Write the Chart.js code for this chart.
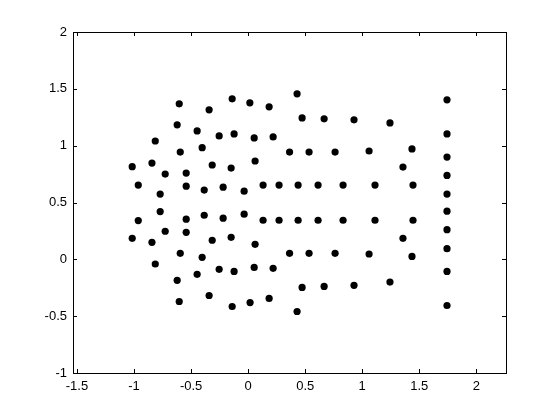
<!DOCTYPE html>
<html>
<head>
<meta charset="utf-8">
<script src="https://cdn.jsdelivr.net/npm/chart.js@4/dist/chart.umd.min.js"></script>
<style>
  html, body { margin:0; padding:0; background:#fff; }
  #wrap { width:560px; height:420px; }
</style>
</head>
<body>
<div id="wrap"><canvas id="chart" width="560" height="420"></canvas></div>
<script>
// ================= DATA =================

// point coordinates
const xVals = [
  -0.604,-0.342,-0.622,-0.447,-0.254,-0.814,-0.595,-0.403,-1.016,-0.843,-0.727,-0.543,-0.315,-0.963,-0.543,-0.385,-0.771,
  -0.771,-0.963,-0.543,-0.385,-1.016,-0.843,-0.727,-0.543,-0.315,-0.595,-0.403,-0.814,-0.447,-0.254,-0.622,-0.342,-0.604,
  -0.140,0.015,0.184,0.429,0.473,0.666,-0.123,0.053,0.219,0.363,0.534,0.762,-0.149,0.061,-0.219,-0.035,0.131,0.271,0.438,0.613,0.832,
  -0.219,-0.035,0.131,0.271,0.438,0.613,0.832,-0.149,0.061,0.363,0.534,0.762,-0.123,0.053,0.219,0.473,0.666,-0.140,0.017,0.184,0.429,
  1.743,0.928,1.243,1.743,1.060,1.436,1.743,1.357,1.743,1.112,1.445,1.743,
  1.112,1.445,1.743,1.743,1.357,1.743,1.060,1.436,1.743,0.928,1.243,1.743
];
const yVals = [
  1.368,1.315,1.183,1.130,1.086,1.041,0.944,0.982,0.815,0.847,0.750,0.759,0.830,0.653,0.644,0.609,0.574,
  0.420,0.341,0.353,0.388,0.185,0.150,0.247,0.238,0.168,0.053,0.018,-0.041,-0.132,-0.088,-0.185,-0.318,-0.371,
  1.412,1.377,1.342,1.456,1.244,1.236,1.103,1.068,1.077,0.944,0.944,0.944,0.803,0.865,0.635,0.600,0.653,0.653,0.653,0.653,0.653,
  0.362,0.397,0.344,0.344,0.344,0.344,0.344,0.194,0.132,0.053,0.053,0.053,-0.106,-0.071,-0.079,-0.247,-0.238,-0.415,-0.380,-0.344,-0.459,
  1.403,1.227,1.200,1.103,0.953,0.971,0.900,0.812,0.738,0.653,0.653,0.574,
  0.344,0.344,0.424,0.261,0.185,0.094,0.047,0.026,-0.106,-0.229,-0.200,-0.406
];

const xTicks = [-1.5,-1,-0.5,0,0.5,1,1.5,2];
const yTicks = [-1,-0.5,0,0.5,1,1.5,2];

const xMin = -1.535, xMax = 2.26;
const yMin = -1, yMax = 2;

// ================= CHART =================

const points = xVals.map((x,i)=>({x:x, y:yVals[i]}));

// box round the plot with inward ticks on all four sides
const boxPlugin = {
  id:"box",
  afterDraw(c){
    const ctx = c.ctx, a = c.chartArea;
    const xs = c.scales.x, ys = c.scales.y;
    const tl = 4;
    ctx.save();
    ctx.strokeStyle = "#000";
    ctx.lineWidth = 1;
    ctx.beginPath();
    xTicks.forEach(v=>{
      const px = Math.round(xs.getPixelForValue(v)) + 0.5;
      ctx.moveTo(px, a.bottom); ctx.lineTo(px, a.bottom - tl);
      ctx.moveTo(px, a.top); ctx.lineTo(px, a.top + tl);
    });
    yTicks.forEach(v=>{
      const py = Math.round(ys.getPixelForValue(v)) + 0.5;
      ctx.moveTo(a.left, py); ctx.lineTo(a.left + tl, py);
      ctx.moveTo(a.right, py); ctx.lineTo(a.right - tl, py);
    });
    ctx.stroke();
    ctx.strokeRect(Math.round(a.left)+0.5, Math.round(a.top)+0.5,
                   Math.round(a.right - a.left), Math.round(a.bottom - a.top));
    ctx.restore();
  }
};

const ctx = document.getElementById("chart").getContext("2d");

new Chart(ctx,{
  type:"scatter",
  data:{
    datasets:[{
      data: points,
      backgroundColor:"#000",
      borderWidth:0,
      pointRadius:3.6,
      pointHoverRadius:3.6
    }]
  },
  options:{
    animation:false,
    responsive:false,
    layout:{ padding:{ left:0, top:32, right:54, bottom:0 } },
    scales:{
      x:{
        type:"linear",
        min:xMin, max:xMax,
        afterBuildTicks: s => { s.ticks = xTicks.map(v=>({value:v})); },
        afterFit: s => { s.height = 47; },
        grid:{ display:false, drawTicks:false },
        border:{ display:false },
        ticks:{
          color:"#000",
          padding:6,
          maxRotation:0,
          font:{ family:"'Liberation Sans', Arial, sans-serif", size:13 },
          callback: v => String(v)
        }
      },
      y:{
        type:"linear",
        min:yMin, max:yMax,
        afterBuildTicks: s => { s.ticks = yTicks.map(v=>({value:v})); },
        afterFit: s => { s.width = 73; },
        grid:{ display:false, drawTicks:false },
        border:{ display:false },
        ticks:{
          color:"#000",
          padding:6,
          font:{ family:"'Liberation Sans', Arial, sans-serif", size:13 },
          callback: v => String(v)
        }
      }
    },
    plugins:{
      legend:{ display:false },
      tooltip:{ enabled:false }
    }
  },
  plugins:[boxPlugin]
});
</script>
</body>
</html>
